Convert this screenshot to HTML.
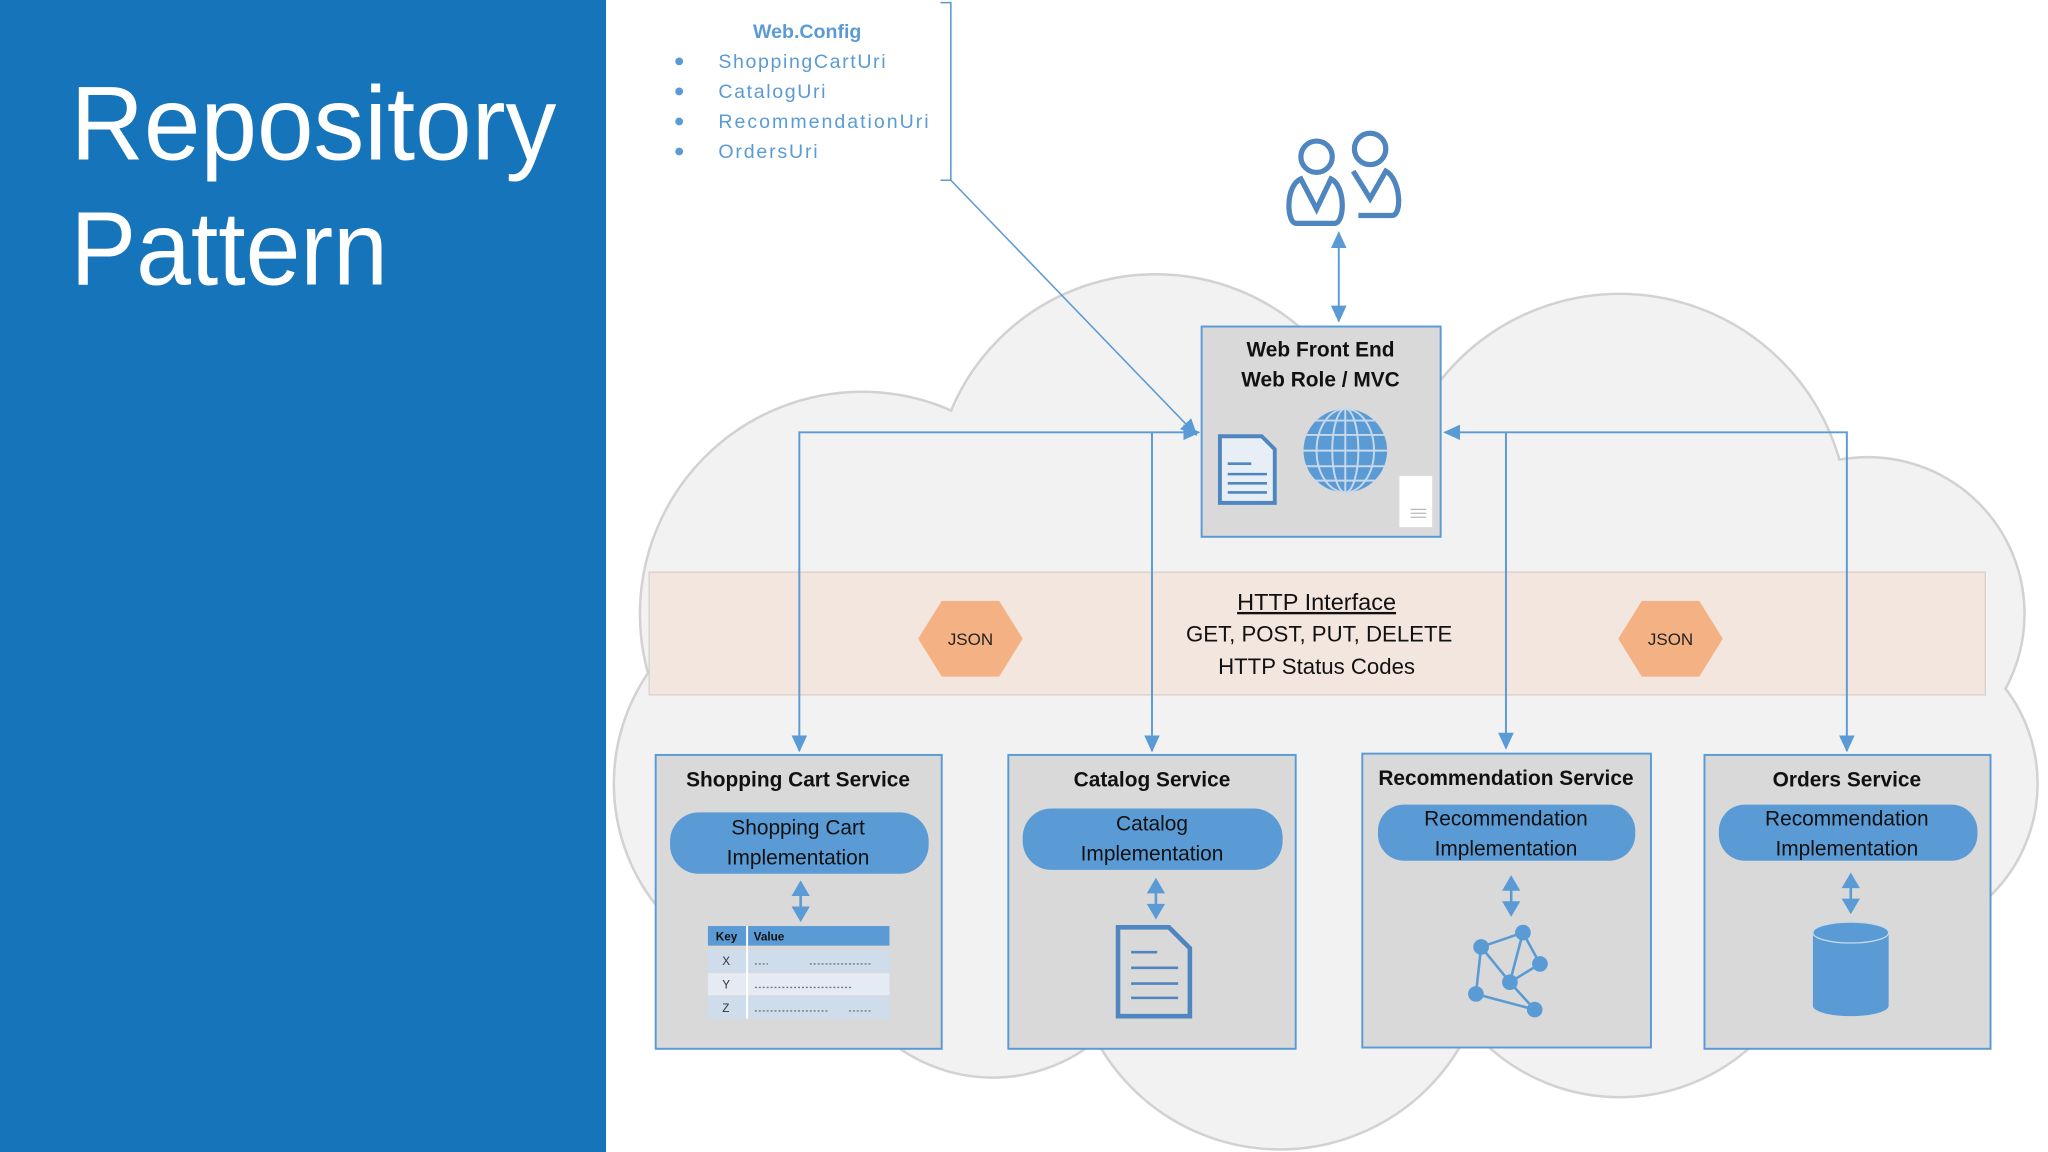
<!DOCTYPE html>
<html><head><meta charset="utf-8"><style>
html,body{margin:0;padding:0;background:#fff;}
svg{display:block;}
text{font-family:"Liberation Sans",sans-serif;}
</style></head><body>
<svg width="2048" height="1152" viewBox="0 0 1568 882" xmlns="http://www.w3.org/2000/svg">
<defs>
<marker id="arb" markerWidth="14" markerHeight="12" refX="12" refY="6" orient="auto-start-reverse" markerUnits="userSpaceOnUse"><path d="M0,0 L13,6 L0,12 z" fill="#5B9BD5"/></marker>
</defs>
<rect width="1568" height="882" fill="#fff"/>
<rect x="0" y="0" width="464" height="882" fill="#1674BB"/>
<text x="54" y="122" font-size="80" fill="#fff" textLength="372" lengthAdjust="spacingAndGlyphs">Repository</text>
<text x="54" y="218" font-size="80" fill="#fff" textLength="243" lengthAdjust="spacingAndGlyphs">Pattern</text>

<!-- cloud -->
<g stroke="#d2d2d2" stroke-width="2" fill="#f2f2f3">
<circle cx="885" cy="380" r="170"/>
<circle cx="1240" cy="400" r="175"/>
<circle cx="1430" cy="470" r="120"/>
<circle cx="1440" cy="600" r="120"/>
<circle cx="660" cy="470" r="170"/>
<circle cx="620" cy="600" r="150"/>
<circle cx="980" cy="720" r="160"/>
<circle cx="760" cy="700" r="125"/>
<circle cx="1240" cy="690" r="150"/>
<ellipse cx="1010" cy="560" rx="480" ry="200"/>
</g>
<g fill="#f2f2f3">
<circle cx="885" cy="380" r="169"/>
<circle cx="1240" cy="400" r="174"/>
<circle cx="1430" cy="470" r="119"/>
<circle cx="1440" cy="600" r="119"/>
<circle cx="660" cy="470" r="169"/>
<circle cx="620" cy="600" r="149"/>
<circle cx="980" cy="720" r="159"/>
<circle cx="760" cy="700" r="124"/>
<circle cx="1240" cy="690" r="149"/>
<ellipse cx="1010" cy="560" rx="479" ry="199"/>
</g>

<!-- HTTP band -->
<rect x="497" y="438" width="1023" height="94" fill="#f3e6df" stroke="#d8d0cc"/>
<polygon points="721,460 765,460 783,489 765,518 721,518 703,489" fill="#F4B183"/>
<text x="743" y="494" font-size="13" text-anchor="middle" fill="#222">JSON</text>
<polygon points="1257,460 1301,460 1319,489 1301,518 1257,518 1239,489" fill="#F4B183"/>
<text x="1279" y="494" font-size="13" text-anchor="middle" fill="#222">JSON</text>
<text x="1008" y="467" font-size="18" text-anchor="middle" fill="#111" text-decoration="underline">HTTP Interface</text>
<text x="1010" y="491" font-size="17" text-anchor="middle" fill="#111">GET, POST, PUT, DELETE</text>
<text x="1008" y="516" font-size="17" text-anchor="middle" fill="#111">HTTP Status Codes</text>

<!-- web config -->
<text x="618" y="29" font-size="15" font-weight="bold" text-anchor="middle" fill="#5B9BD5">Web.Config</text>
<g font-size="15" fill="#5B9BD5">
<circle cx="520" cy="47" r="3"/><text x="550" y="52" textLength="128" lengthAdjust="spacing">ShoppingCartUri</text>
<circle cx="520" cy="70" r="3"/><text x="550" y="75" textLength="82" lengthAdjust="spacing">CatalogUri</text>
<circle cx="520" cy="93" r="3"/><text x="550" y="98" textLength="161" lengthAdjust="spacing">RecommendationUri</text>
<circle cx="520" cy="116" r="3"/><text x="550" y="121" textLength="76" lengthAdjust="spacing">OrdersUri</text>
</g>
<path d="M720,2 H728 V138 H720" fill="none" stroke="#5B9BD5" stroke-width="1.2"/>
<line x1="728" y1="138" x2="916" y2="333" stroke="#5B9BD5" stroke-width="1.2" marker-end="url(#arb)"/>

<!-- users -->
<g fill="none" stroke="#4F86C0" stroke-width="4">
<circle cx="1008" cy="120" r="12"/>
<path d="M996,137 C984,142 985,170 992,171 H1022 C1030,170 1030,142 1019,137 L1008,160 Z"/>
<circle cx="1049" cy="114" r="12"/>
<path d="M1036,131 L1049,152 L1061,131 C1072,137 1074,164 1066,165 H1040"/>
</g>
<line x1="1025" y1="178" x2="1025" y2="246" stroke="#5B9BD5" stroke-width="1.5" marker-start="url(#arb)" marker-end="url(#arb)"/>

<!-- web front end -->
<rect x="920" y="250" width="183" height="161" fill="#d9d9d9" stroke="#5B9BD5" stroke-width="1.5"/>
<text x="1011" y="273" font-size="16" font-weight="bold" text-anchor="middle" fill="#111">Web Front End</text>
<text x="1011" y="296" font-size="16" font-weight="bold" text-anchor="middle" fill="#111">Web Role / MVC</text>
<path d="M934,334 H966 L976,344 V385 H934 Z" fill="#e8eef6" stroke="#4F86C0" stroke-width="3"/>
<g stroke="#4F86C0" stroke-width="2"><line x1="940" y1="355" x2="958" y2="355"/><line x1="940" y1="363" x2="970" y2="363"/><line x1="940" y1="370" x2="970" y2="370"/><line x1="940" y1="377" x2="970" y2="377"/></g>
<circle cx="1030" cy="345" r="32" fill="#5B9BD5"/>
<g stroke="#c8d8ea" stroke-width="1.5" fill="none">
<line x1="998" y1="345" x2="1062" y2="345"/><line x1="1000" y1="333" x2="1060" y2="333"/><line x1="1000" y1="357" x2="1060" y2="357"/><line x1="1006" y1="322" x2="1054" y2="322"/><line x1="1006" y1="368" x2="1054" y2="368"/>
<ellipse cx="1030" cy="345" rx="10" ry="32"/><ellipse cx="1030" cy="345" rx="22" ry="32"/><line x1="1030" y1="313" x2="1030" y2="377"/>
</g>
<rect x="1071" y="364" width="26" height="40" fill="#fff" stroke="#ddd"/>
<g stroke="#bbb" stroke-width="1"><line x1="1080" y1="390" x2="1092" y2="390"/><line x1="1080" y1="393" x2="1092" y2="393"/><line x1="1080" y1="396" x2="1092" y2="396"/></g>

<!-- connectors -->
<g stroke="#5B9BD5" stroke-width="1.5" fill="none">
<polyline points="612,575 612,331 918,331" marker-start="url(#arb)" marker-end="url(#arb)"/>
<line x1="882" y1="331" x2="882" y2="575" marker-end="url(#arb)"/>
<polyline points="1106,331 1414,331 1414,575" marker-start="url(#arb)" marker-end="url(#arb)"/>
<line x1="1153" y1="331" x2="1153" y2="573" marker-end="url(#arb)"/>
</g>

<!-- services -->
<g fill="#d9d9d9" stroke="#5B9BD5" stroke-width="1.5">
<rect x="502" y="578" width="219" height="225"/>
<rect x="772" y="578" width="220" height="225"/>
<rect x="1043" y="577" width="221" height="225"/>
<rect x="1305" y="578" width="219" height="225"/>
</g>
<g font-size="16" font-weight="bold" text-anchor="middle" fill="#111">
<text x="611" y="602">Shopping Cart Service</text>
<text x="882" y="602">Catalog Service</text>
<text x="1153" y="601">Recommendation Service</text>
<text x="1414" y="602">Orders Service</text>
</g>
<g fill="#5B9BD5">
<rect x="513" y="622" width="198" height="47" rx="22"/>
<rect x="783" y="619" width="199" height="47" rx="22"/>
<rect x="1055" y="616" width="197" height="43" rx="20"/>
<rect x="1316" y="616" width="198" height="43" rx="20"/>
</g>
<g font-size="16" text-anchor="middle" fill="#111">
<text x="611" y="639">Shopping Cart</text><text x="611" y="662">Implementation</text>
<text x="882" y="636">Catalog</text><text x="882" y="659">Implementation</text>
<text x="1153" y="632">Recommendation</text><text x="1153" y="655">Implementation</text>
<text x="1414" y="632">Recommendation</text><text x="1414" y="655">Implementation</text>
</g>
<g stroke="#5B9BD5" stroke-width="2">
<line x1="613" y1="676" x2="613" y2="704"/><line x1="885" y1="674" x2="885" y2="702"/><line x1="1157" y1="672" x2="1157" y2="700"/><line x1="1417" y1="670" x2="1417" y2="698"/>
</g>
<g fill="#5B9BD5">
<path d="M606,686 L613,674 L620,686Z M606,694 L613,706 L620,694Z"/>
<path d="M878,684 L885,672 L892,684Z M878,692 L885,704 L892,692Z"/>
<path d="M1150,682 L1157,670 L1164,682Z M1150,690 L1157,702 L1164,690Z"/>
<path d="M1410,680 L1417,668 L1424,680Z M1410,688 L1417,700 L1424,688Z"/>
</g>
<rect x="542" y="709" width="139" height="15" fill="#5B9BD5"/>
<text x="548" y="720" font-size="9" font-weight="bold" fill="#111">Key</text>
<text x="577" y="720" font-size="9" font-weight="bold" fill="#111">Value</text>
<rect x="542" y="727" width="139" height="17" fill="#cfdcec"/>
<rect x="542" y="745" width="139" height="17" fill="#e4ebf4"/>
<rect x="542" y="763" width="139" height="17" fill="#cfdcec"/>
<g font-size="9" fill="#333"><text x="553" y="739">X</text><text x="553" y="757">Y</text><text x="553" y="775">Z</text></g>
<g stroke="#777" stroke-width="1" stroke-dasharray="1.5,1.5"><line x1="578" y1="738" x2="588" y2="738"/><line x1="620" y1="738" x2="668" y2="738"/><line x1="578" y1="756" x2="652" y2="756"/><line x1="578" y1="774" x2="634" y2="774"/><line x1="650" y1="774" x2="668" y2="774"/></g>
<line x1="572" y1="709" x2="572" y2="780" stroke="#fff" stroke-width="1.5"/>
<path d="M856,710 H895 L911,726 V778 H856 Z" fill="#d9d9d9" stroke="#4F86C0" stroke-width="3.5"/>
<g stroke="#4F86C0" stroke-width="2"><line x1="866" y1="729" x2="886" y2="729"/><line x1="866" y1="741" x2="902" y2="741"/><line x1="866" y1="753" x2="902" y2="753"/><line x1="866" y1="764" x2="902" y2="764"/></g>
<g stroke="#5B9BD5" stroke-width="2"><line x1="1134" y1="725" x2="1166" y2="714"/><line x1="1134" y1="725" x2="1156" y2="752"/><line x1="1166" y1="714" x2="1156" y2="752"/><line x1="1166" y1="714" x2="1179" y2="738"/><line x1="1179" y1="738" x2="1156" y2="752"/><line x1="1134" y1="725" x2="1130" y2="761"/><line x1="1130" y1="761" x2="1175" y2="773"/><line x1="1156" y1="752" x2="1175" y2="773"/></g>
<g fill="#5B9BD5"><circle cx="1134" cy="725" r="6"/><circle cx="1166" cy="714" r="6"/><circle cx="1179" cy="738" r="6"/><circle cx="1156" cy="752" r="6"/><circle cx="1130" cy="761" r="6"/><circle cx="1175" cy="773" r="6"/></g>
<path d="M1388,714 V770 A29,8 0 0 0 1446,770 V714 Z" fill="#5B9BD5"/>
<ellipse cx="1417" cy="714" rx="29" ry="8" fill="#5B9BD5" stroke="#c8d8ea" stroke-width="1"/>
</svg>
</body></html>
